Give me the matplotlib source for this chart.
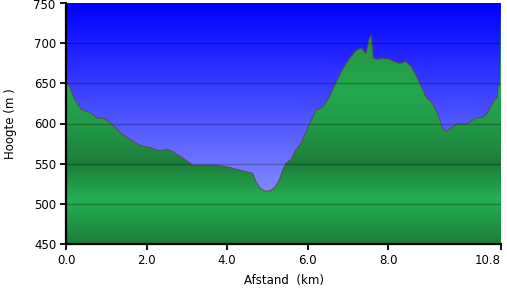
import numpy as np
import matplotlib
matplotlib.use("Agg")
import matplotlib.pyplot as plt
from matplotlib.colors import LinearSegmentedColormap
from matplotlib.patches import Polygon

# --- profile data (distance in km, elevation in m) ---
afstand = [0.0, 0.07, 0.22, 0.39, 0.59, 0.76, 0.97, 1.16, 1.41, 1.63, 1.83,
           2.08, 2.33, 2.50, 2.65, 2.90, 3.15, 3.40, 3.74, 3.99, 4.31, 4.63,
           4.71, 4.81, 4.93, 5.06, 5.18, 5.30, 5.38, 5.47, 5.59, 5.68, 5.80,
           5.87, 6.05, 6.21, 6.37, 6.54, 6.71, 6.86, 7.04, 7.20, 7.33, 7.45,
           7.53, 7.58, 7.63, 7.73, 7.86, 8.03, 8.15, 8.28, 8.44, 8.57, 8.69,
           8.82, 8.94, 9.10, 9.22, 9.34, 9.43, 9.56, 9.71, 9.93, 10.18, 10.33,
           10.46, 10.63, 10.71, 10.73, 10.77, 10.8]
hoogte = [650, 648, 629, 617, 614, 607, 606, 598, 586, 579, 573,
          570, 566, 568, 565, 557, 548, 548, 548, 546, 542, 538,
          528, 520, 516, 516, 520, 530, 542, 551, 555, 565, 573,
          579, 600, 617, 620, 633, 652, 667, 681, 691, 694, 687,
          706, 710, 681, 680, 681, 680, 677, 675, 677, 671, 660,
          646, 633, 625, 613, 596, 590, 594, 600, 599, 607, 607,
          613, 629, 633, 647, 648, 755]

x_ticks = [0.0, 2.0, 4.0, 6.0, 8.0, 10.8]
x_ticklabels = ["0.0", "2.0", "4.0", "6.0", "8.0", "10.8"]
y_ticks = [450, 500, 550, 600, 650, 700, 750]
y_ticklabels = ["450", "500", "550", "600", "650", "700", "750"]

xmin, xmax = 0.0, 10.8
ymin, ymax = 450, 750

fig = plt.figure(figsize=(5.07, 2.97), dpi=100)
ax = fig.add_axes([66 / 507, 53 / 297, 435 / 507, 241 / 297])

# --- sky gradient background (light at the bottom, pure blue at the top) ---
sky = LinearSegmentedColormap.from_list("sky", [(165 / 255, 175 / 255, 1.0), (0.0, 0.0, 1.0)])
grad = np.linspace(0, 1, 256).reshape(-1, 1)
ax.imshow(grad, cmap=sky, aspect="auto", extent=[xmin, xmax, ymin, ymax],
          origin="lower", zorder=0)

# --- green gradient fill clipped to the profile ---
stops = [(450, (28, 125, 58)), (505, (36, 176, 82)), (550, (28, 125, 58)),
         (600, (33, 155, 72)), (640, (35, 168, 78)), (700, (38, 150, 70)),
         (750, (40, 160, 75))]
green = LinearSegmentedColormap.from_list(
    "green", [((v - ymin) / (ymax - ymin), tuple(c / 255 for c in col)) for v, col in stops])
img = ax.imshow(grad, cmap=green, aspect="auto", extent=[xmin, xmax, ymin, ymax],
                origin="lower", zorder=1)
verts = [(xmin, ymin)] + list(zip(afstand, hoogte)) + [(xmax, ymin)]
poly = Polygon(verts, closed=True, facecolor="none", edgecolor="none")
ax.add_patch(poly)
img.set_clip_path(poly)

# profile outline (the last jump on the right edge has no outline)
ax.plot(afstand[:-1], hoogte[:-1], color="#5a4a4a", linewidth=0.9, alpha=0.75, zorder=3)

# gridlines
for y in y_ticks[1:-1]:
    ax.axhline(y, color="black", alpha=0.25, linewidth=1.0, zorder=4)

ax.set_xlim(xmin, xmax)
ax.set_ylim(ymin, ymax)
ax.set_xticks(x_ticks)
ax.set_xticklabels(x_ticklabels)
ax.set_yticks(y_ticks)
# top label is drawn by hand so it stays inside the picture
ax.set_yticklabels(y_ticklabels[:-1] + [""])
ax.annotate(y_ticklabels[-1], xy=(0, ymax), xycoords=("axes fraction", "data"),
            xytext=(-7.5, -1.5), textcoords="offset points", ha="right", va="center",
            fontsize=8.5)
ax.get_xticklabels()[-1].set_ha("right")
ax.get_xticklabels()[-1].set_x(10.8)

for side in ["top", "right"]:
    ax.spines[side].set_visible(False)
for side in ["left", "bottom"]:
    ax.spines[side].set_linewidth(1.6)
    ax.spines[side].set_zorder(5)

ax.tick_params(axis="both", direction="out", length=4, width=1.3, labelsize=8.5,
               colors="black", pad=3)
ax.tick_params(axis="x", pad=3)

ax.set_xlabel("Afstand  (km)", fontsize=8.5, labelpad=5)
ax.set_ylabel("Hoogte (m )", fontsize=8.5, labelpad=12)

fig.savefig("out.png", dpi=100)
